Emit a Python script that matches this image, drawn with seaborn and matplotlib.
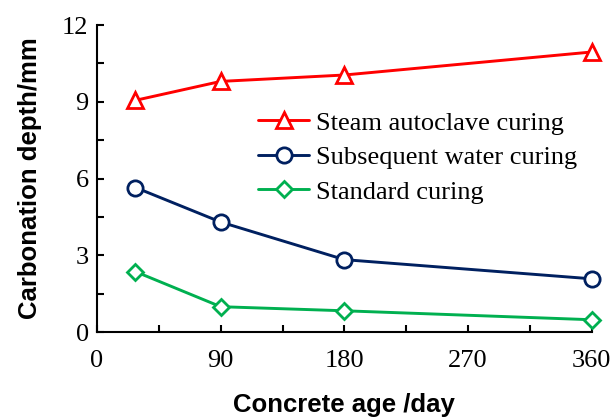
import pandas as pd
import seaborn as sns
import matplotlib.pyplot as plt

# Data
age_days = [28, 90, 180, 360]
steam = [9.06, 9.8, 10.05, 10.95]
water = [5.65, 4.3, 2.83, 2.08]
standard = [2.36, 0.99, 0.83, 0.48]

series_names = ['Steam autoclave curing', 'Subsequent water curing', 'Standard curing']
colors = ['#FF0000', '#002060', '#00B050']
markers = ['^', 'o', 'D']
marker_sizes = [11, 11, 8.5]

df = pd.DataFrame({
    'age': age_days * 3,
    'depth': steam + water + standard,
    'curing': [n for n in series_names for _ in age_days],
})

sns.set_style('ticks')
plt.rcParams['font.family'] = ['Liberation Serif', 'DejaVu Serif']
plt.rcParams['text.color'] = 'black'
plt.rcParams['axes.labelcolor'] = 'black'

fig = plt.figure(figsize=(6.12, 4.19), dpi=100)
ax = fig.add_axes([0.1585, 0.2076, 0.8085, 0.7324])

sns.lineplot(data=df, x='age', y='depth', hue='curing', style='curing',
             palette=colors, markers=markers, dashes=False, linewidth=2.1,
             markerfacecolor='white', markeredgewidth=2,
             legend=False, ax=ax, clip_on=False)
for line, ms in zip(ax.lines, marker_sizes):
    line.set_markeredgecolor(line.get_color())
    line.set_markersize(ms)
    line.set_zorder(3)

ax.set_xlim(0, 360)
ax.set_ylim(0, 12)
ax.set_xticks([0, 90, 180, 270, 360])
ax.set_yticks([0, 3, 6, 9, 12])
ax.set_xticks([45, 135, 225, 315], minor=True)
ax.set_yticks([1.5, 4.5, 7.5, 10.5], minor=True)
ax.tick_params(which='both', direction='in', width=1.5, length=5, colors='black', labelsize=19)
ax.tick_params(axis='x', pad=13)
ax.tick_params(axis='y', pad=6)
for s in ['left', 'bottom']:
    ax.spines[s].set_linewidth(1.5)
    ax.spines[s].set_color('black')
sns.despine(ax=ax)

ax.set_xlabel('Concrete age /day', family='Liberation Sans', fontweight='bold', fontsize=18.5)
ax.set_ylabel('Carbonation depth/mm', family='Liberation Sans', fontweight='bold', fontsize=18.5)
ax.xaxis.set_label_coords(0.5, -0.2)
ax.yaxis.set_label_coords(-0.112, 0.5)
ax.xaxis.label.set_va('top')

ax.legend(ax.lines[:3], series_names, frameon=False, fontsize=19, loc='upper left',
          bbox_to_anchor=(0.325, 0.72), handlelength=1.95, handletextpad=0.25,
          labelspacing=0.42, borderpad=0, borderaxespad=0)

fig.savefig('out.png', dpi=100)
